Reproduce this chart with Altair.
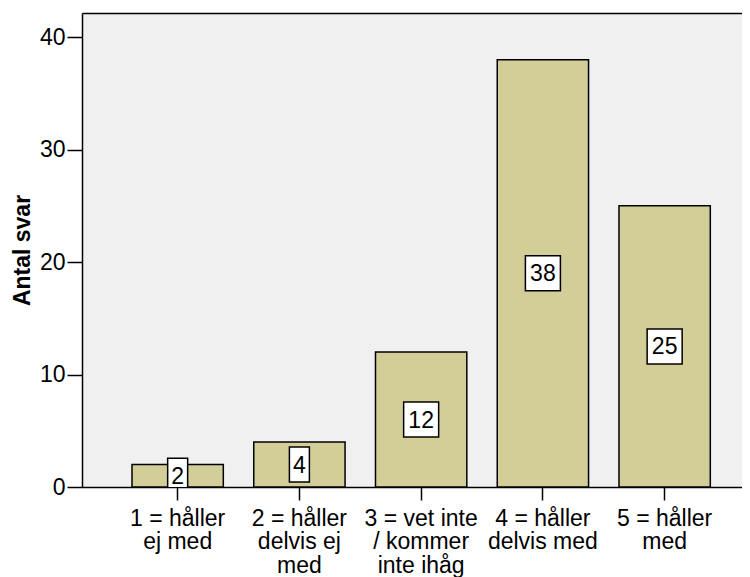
import altair as alt
import pandas as pd

categories = [
    "1 = håller\nej med",
    "2 = håller\ndelvis ej\nmed",
    "3 = vet inte\n/ kommer\ninte ihåg",
    "4 = håller\ndelvis med",
    "5 = håller\nmed",
]
counts = [2, 4, 12, 38, 25]
y_ticks = [0, 10, 20, 30, 40]

df = pd.DataFrame({"kategori": categories, "antal": counts})

FONT = "Liberation Sans"
BAR_FILL = "#D3CE97"
FS = 23

x_scale = alt.Scale(paddingInner=0.25, paddingOuter=0.3355, align=0.612)

x_bottom = alt.X(
    "kategori:N",
    sort=categories,
    scale=x_scale,
    axis=alt.Axis(
        title=None,
        labelAngle=0,
        labelExpr="split(datum.value, '\\n')",
        labelFontSize=FS,
        labelLineHeight=23.5,
        labelPadding=7,
        labelColor="black",
        labelFont=FONT,
        tickSize=13,
        tickWidth=1.5,
        tickColor="black",
        domainColor="black",
        domainWidth=1.5,
        grid=False,
    ),
)

x_top = alt.X(
    "kategori:N",
    sort=categories,
    scale=x_scale,
    axis=alt.Axis(
        orient="top",
        title=None,
        labels=False,
        ticks=False,
        domainColor="black",
        domainWidth=1.5,
        grid=False,
    ),
)

x_none = alt.X("kategori:N", sort=categories, scale=x_scale, axis=None)

y_scale = alt.Scale(domain=[0, 42.15], nice=False, zero=True)

y_axis = alt.Axis(
    values=y_ticks,
    title="Antal svar",
    titleFont=FONT,
    titleFontSize=FS,
    titleFontWeight="bold",
    titleColor="black",
    titlePadding=5,
    labelFont=FONT,
    labelFontSize=FS,
    labelColor="black",
    labelPadding=2,
    tickSize=15,
    tickWidth=1.5,
    tickColor="black",
    domainColor="black",
    domainWidth=1.5,
    grid=False,
)

base = alt.Chart(df)

bars = base.mark_bar(fill=BAR_FILL, stroke="black", strokeWidth=1.5).encode(
    x=x_bottom,
    y=alt.Y("antal:Q", scale=y_scale, axis=y_axis),
)

narrow = "M-0.571,-1H0.571V1H-0.571Z"
wide = "M-1,-1H1V1H-1Z"

boxes = (
    base.transform_calculate(
        mitt="datum.antal / 2", siffror="toString(length(toString(datum.antal)))"
    )
    .mark_point(
        filled=True,
        fill="white",
        stroke="black",
        strokeWidth=1.5,
        size=35 * 35,
        opacity=1,
        fillOpacity=1,
        strokeOpacity=1,
        clip=True,
    )
    .encode(
        x=x_none,
        y=alt.Y("mitt:Q", scale=y_scale, axis=y_axis),
        shape=alt.Shape(
            "siffror:N",
            scale=alt.Scale(domain=["1", "2"], range=[narrow, wide]),
            legend=None,
        ),
    )
)

labels = (
    base.transform_calculate(mitt="datum.antal / 2")
    .mark_text(font=FONT, fontSize=FS, color="black", baseline="middle", align="center", dy=1)
    .encode(x=x_top, y=alt.Y("mitt:Q", scale=y_scale, axis=y_axis), text="antal:Q")
)

chart = (
    alt.layer(bars, boxes, labels)
    .resolve_axis(x="independent")
    .properties(
        width=660,
        height=474,
        autosize=alt.AutoSizeParams(type="none"),
        padding={"left": 74, "top": 5, "right": 0, "bottom": 90},
        background="white",
    )
    .configure_view(fill="#F0F0F0", stroke=None)
)

chart.save("out.html", embed_options={"renderer": "svg", "actions": False})
